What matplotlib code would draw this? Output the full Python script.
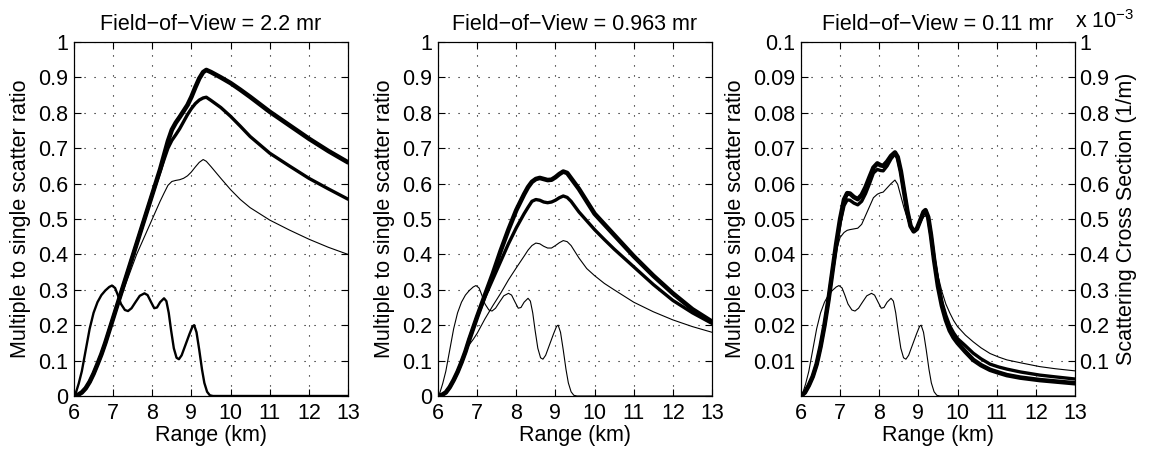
import numpy as np
import matplotlib.pyplot as plt

plt.rcParams['font.family'] = ['Liberation Sans', 'DejaVu Sans']
plt.rcParams['mathtext.fontset'] = 'custom'
plt.rcParams['mathtext.rm'] = 'Liberation Sans'
FS = 15.5

# scattering cross section (x 1e-3 1/m), same in every panel
r_sig = [6.0, 6.05, 6.12, 6.2, 6.3, 6.4, 6.5, 6.6, 6.7, 6.8, 6.9, 6.97, 7.05, 7.12,
         7.2, 7.3, 7.38, 7.47, 7.57, 7.68, 7.8, 7.88, 7.97, 8.05, 8.12, 8.2, 8.3,
         8.36, 8.42, 8.48, 8.55, 8.62, 8.68, 8.75, 8.85, 8.95, 9.03, 9.07, 9.13,
         9.2, 9.27, 9.33, 9.4, 9.47, 9.55, 13.0]
sig = [0.0, 0.01, 0.035, 0.07, 0.13, 0.19, 0.235, 0.265, 0.285, 0.298, 0.308, 0.312,
       0.305, 0.285, 0.26, 0.243, 0.24, 0.248, 0.265, 0.283, 0.29, 0.285, 0.265,
       0.248, 0.25, 0.265, 0.276, 0.268, 0.235, 0.186, 0.135, 0.108, 0.104, 0.115,
       0.145, 0.175, 0.197, 0.2, 0.18, 0.13, 0.075, 0.037, 0.012, 0.002, 0.0, 0.0]

# FOV = 2.2 mr
r1 = [6.0, 6.1, 6.2, 6.3, 6.4, 6.5, 6.6, 6.7, 6.8, 6.9, 7.0, 7.2, 7.4, 7.6, 7.8,
      8.0, 8.2, 8.3, 8.4, 8.5, 8.6, 8.7, 8.8, 8.9, 9.0, 9.1, 9.2, 9.3, 9.38, 9.5,
      9.75, 10.0, 10.25, 10.5, 11.0, 11.5, 12.0, 12.5, 13.0]
thick1 = [0, 0.003, 0.01, 0.022, 0.04, 0.063, 0.09, 0.118, 0.15, 0.185,
          0.22, 0.29, 0.36, 0.43, 0.50, 0.57, 0.64, 0.68, 0.72, 0.752,
          0.772, 0.788, 0.805, 0.822, 0.845, 0.872, 0.897, 0.915, 0.921, 0.915,
          0.90, 0.884, 0.865, 0.845, 0.803, 0.765, 0.727, 0.692, 0.66]
mid1 = [0, 0.003, 0.01, 0.022, 0.04, 0.063, 0.09, 0.118, 0.15, 0.185,
        0.22, 0.29, 0.36, 0.43, 0.50, 0.57, 0.635, 0.668, 0.70, 0.722,
        0.738, 0.755, 0.775, 0.795, 0.812, 0.826, 0.836, 0.842, 0.844, 0.835,
        0.815, 0.79, 0.762, 0.733, 0.686, 0.65, 0.615, 0.585, 0.556]
thin1 = [0, 0.004, 0.012, 0.025, 0.045, 0.068, 0.095, 0.124, 0.155, 0.188,
         0.22, 0.28, 0.34, 0.40, 0.45, 0.50, 0.55, 0.573, 0.595, 0.606,
         0.609, 0.611, 0.615, 0.622, 0.633, 0.647, 0.66, 0.668, 0.663, 0.648,
         0.615, 0.583, 0.555, 0.532, 0.497, 0.469, 0.443, 0.42, 0.40]

# FOV = 0.963 mr
r2 = [6.0, 6.1, 6.2, 6.3, 6.4, 6.5, 6.6, 6.7, 6.8, 6.9, 7.0, 7.2, 7.4, 7.6, 7.8,
      8.0, 8.2, 8.3, 8.4, 8.5, 8.6, 8.7, 8.8, 8.9, 9.0, 9.1, 9.2, 9.3, 9.4, 9.6,
      9.8, 10.0, 10.25, 10.5, 11.0, 11.5, 12.0, 12.5, 13.0]
thick2 = [0, 0.003, 0.01, 0.025, 0.045, 0.068, 0.095, 0.125, 0.16, 0.192,
          0.224, 0.285, 0.345, 0.41, 0.47, 0.525, 0.57, 0.59, 0.605, 0.613,
          0.616, 0.613, 0.61, 0.611, 0.618, 0.627, 0.634, 0.63, 0.615, 0.585,
          0.55, 0.515, 0.485, 0.455, 0.395, 0.34, 0.29, 0.245, 0.21]
mid2 = [0, 0.003, 0.01, 0.025, 0.045, 0.068, 0.095, 0.125, 0.16, 0.192,
        0.224, 0.28, 0.33, 0.38, 0.43, 0.475, 0.515, 0.533, 0.55, 0.555,
        0.553, 0.548, 0.546, 0.548, 0.553, 0.56, 0.565, 0.561, 0.55, 0.52,
        0.495, 0.47, 0.442, 0.415, 0.365, 0.315, 0.27, 0.235, 0.205]
thin2 = [0, 0.003, 0.01, 0.025, 0.045, 0.07, 0.097, 0.125, 0.145, 0.16,
         0.177, 0.218, 0.255, 0.29, 0.328, 0.362, 0.395, 0.412, 0.425, 0.432,
         0.43, 0.423, 0.418, 0.418, 0.425, 0.433, 0.439, 0.436, 0.425, 0.39,
         0.36, 0.34, 0.318, 0.30, 0.265, 0.238, 0.215, 0.196, 0.18]

# FOV = 0.11 mr
r3 = [6.0, 6.1, 6.2, 6.3, 6.4, 6.5, 6.6, 6.7, 6.8, 6.9, 7.0, 7.1, 7.18, 7.25, 7.35,
      7.45, 7.55, 7.65, 7.75, 7.85, 7.95, 8.03, 8.1, 8.2, 8.3, 8.4, 8.47, 8.55,
      8.63, 8.72, 8.8, 8.88, 8.96, 9.05, 9.13, 9.18, 9.25, 9.32, 9.4, 9.5, 9.6,
      9.7, 9.8, 9.9, 10.0, 10.2, 10.4, 10.6, 10.83, 11.05, 11.26, 11.6, 12.1,
      12.5, 13.0]
thick3 = [0, 0.001, 0.003, 0.0055, 0.009, 0.014, 0.02, 0.027, 0.035, 0.043,
          0.05, 0.0555, 0.0573, 0.0572, 0.0562, 0.0556, 0.0568, 0.059, 0.0618, 0.0645,
          0.0657, 0.0652, 0.065, 0.0662, 0.0678, 0.0688, 0.0675, 0.0635, 0.058, 0.052,
          0.048, 0.0465, 0.0472, 0.0497, 0.052, 0.0525, 0.0505, 0.0455, 0.0385, 0.031,
          0.0255, 0.0215, 0.0185, 0.0165, 0.015, 0.0125, 0.0102, 0.0087, 0.0074, 0.0066,
          0.0059, 0.0052, 0.0045, 0.0041, 0.0036]
mid3 = [0, 0.001, 0.003, 0.0055, 0.009, 0.014, 0.02, 0.027, 0.035, 0.042,
        0.049, 0.0538, 0.0554, 0.0553, 0.0545, 0.054, 0.055, 0.0572, 0.06, 0.063,
        0.064, 0.0637, 0.0636, 0.065, 0.067, 0.0684, 0.0672, 0.0633, 0.058, 0.052,
        0.048, 0.0465, 0.0472, 0.0496, 0.0518, 0.0522, 0.0503, 0.0455, 0.039, 0.032,
        0.0265, 0.0228, 0.0198, 0.0178, 0.0162, 0.0142, 0.0121, 0.0105, 0.009, 0.0082,
        0.0076, 0.0068, 0.0059, 0.0054, 0.0048]
thin3 = [0, 0.001, 0.003, 0.0055, 0.009, 0.014, 0.02, 0.027, 0.034, 0.041,
         0.0448, 0.0462, 0.0468, 0.047, 0.0472, 0.0474, 0.0485, 0.051, 0.0535, 0.056,
         0.057, 0.0574, 0.0576, 0.0588, 0.06, 0.061, 0.0598, 0.0565, 0.0532, 0.050,
         0.0475, 0.0463, 0.047, 0.049, 0.0505, 0.051, 0.050, 0.0462, 0.040, 0.034,
         0.0295, 0.026, 0.0235, 0.0213, 0.0196, 0.0172, 0.0153, 0.0136, 0.012, 0.011,
         0.0102, 0.0094, 0.0083, 0.0077, 0.0071]

titles = ['Field\u2212of\u2212View = 2.2 mr', 'Field\u2212of\u2212View = 0.963 mr',
          'Field\u2212of\u2212View = 0.11 mr']
panels = [(r1, thick1, mid1, thin1), (r2, thick2, mid2, thin2), (r3, thick3, mid3, thin3)]
lefts = [74, 438, 801]
ymax = [1.0, 1.0, 0.1]

fig = plt.figure(figsize=(11.49, 4.57), dpi=100)

for i in range(3):
    ax = fig.add_axes([lefts[i] / 1149, 61 / 457, 274 / 1149, 354 / 457])
    tw = ax.twinx()
    r, a, b, c = panels[i]
    ax.plot(r, a, 'k-', lw=3.3, solid_joinstyle='round', solid_capstyle='round', zorder=3)
    ax.plot(r, b, 'k-', lw=2.4, solid_joinstyle='round', solid_capstyle='round', zorder=3)
    ax.plot(r, c, 'k-', lw=0.8, zorder=3)
    tw.plot(r_sig, sig, 'k-', lw=1.7 if i == 0 else 0.8)

    ax.set_xlim(6, 13)
    ax.set_ylim(0, ymax[i])
    tw.set_ylim(0, 1)
    ax.set_xticks(range(6, 14))
    if i < 2:
        yt = np.arange(0, 11) / 10
        ax.set_yticks(yt)
        ax.set_yticklabels(['0'] + ['%.1f' % v for v in yt[1:-1]] + ['1'])
        tw.set_yticks([])
        ax.tick_params(right=True)
    else:
        yt = np.arange(1, 11) / 100
        ax.set_yticks(yt)
        ax.set_yticklabels(['%.2f' % v for v in yt[:-1]] + ['0.1'])
        tw.set_yticks(np.arange(1, 11) / 10)
        tw.set_yticklabels(['%.1f' % v for v in np.arange(1, 10) / 10] + ['1'])
        tw.tick_params(direction='in', length=5, width=0.8, labelsize=FS, pad=3)
        tw.set_ylabel('Scattering Cross Section (1/m)', fontsize=FS, labelpad=5)
        ax.tick_params(right=False)
        ax.text(1.0, 1.04, r'x 10$^{\mathregular{-3}}$', transform=ax.transAxes,
                fontsize=FS, ha='left', va='baseline')

    ax.tick_params(direction='in', top=True, length=5, width=0.8, labelsize=FS, pad=4)
    ax.tick_params(axis='x', pad=5)
    ax.grid(True, linestyle=(0, (1, 8)), lw=0.8, color='k')
    for s in ax.spines.values():
        s.set_linewidth(0.8)
    ax.set_xlabel('Range (km)', fontsize=FS, labelpad=1)
    ax.set_ylabel('Multiple to single scatter ratio', fontsize=FS, labelpad=5)
    ax.set_title(titles[i], fontsize=FS, pad=9)
    ax.set_zorder(tw.get_zorder() + 1)
    ax.patch.set_visible(False)

plt.savefig('out.png', dpi=100)
